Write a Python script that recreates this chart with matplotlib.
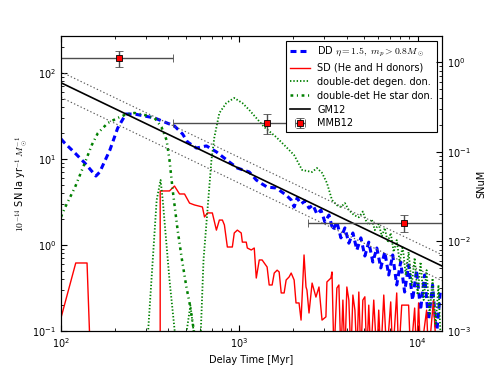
import matplotlib
matplotlib.use('Agg')
import matplotlib.pyplot as plt
import numpy as np

plt.rc('font', size=7)
plt.rc('mathtext', fontset='cm')
plt.rc('lines', scale_dashes=False)
plt.rc('xtick', direction='in')
plt.rc('ytick', direction='in')

## data (delay time in Myr, rate in 1e-14 SN Ia / yr / Msun)
# DD channel
dd_t = [100, 105, 120, 136, 157, 165, 188, 208, 231, 259, 294, 335, 381, 433, 481, 512, 575, 654, 744, 879,
        975, 1137, 1245, 1343, 1432, 1610, 1831, 1954, 2030, 2110, 2220, 2335, 2460, 2590, 2725, 2870, 3020, 3182, 3350, 3525,
        3715, 3910, 4115, 4335, 4565, 4805, 5060, 5322, 5610, 5905, 6215, 6545, 6883, 7250, 7635, 8035, 8455, 8902, 9370, 9865,
        10390, 10935, 11513, 12130, 12770, 13430]
dd_v = [17.1, 15.3, 11.7, 8.98, 6.34, 7.06, 12.7, 22.9, 33.3, 33.3, 31.6, 30.0, 26.9, 24.2, 19.5, 15.8, 13.4, 14.2, 12.1, 9.23,
        7.85, 7.06, 5.70, 5.12, 4.72, 4.60, 3.81, 3.34, 2.77, 3.52, 3.00, 3.25, 2.69, 2.92, 2.29, 2.55, 1.85, 2.23, 1.49, 1.85,
        1.21, 1.58, 1.05, 1.38, 0.875, 1.21, 0.745, 1.08, 0.634, 0.923, 0.541, 0.830, 0.448, 0.766, 0.343, 0.634, 0.284, 0.585, 0.229, 0.51,
        0.175, 0.448, 0.134, 0.343, 0.09, 0.30]

# SD channel
sd_t = [100, 121, 140, 145, 360, 360, 406, 433, 462, 493, 526, 561, 621, 638, 663, 706, 744, 773, 804, 825,
        857, 914, 937, 975, 1025, 1040, 1094, 1109, 1167, 1213, 1245, 1294, 1343, 1380, 1432, 1471, 1528, 1570, 1630, 1673,
        1718, 1784, 1831, 1902, 1954, 2030, 2080, 2163, 2220, 2307, 2366, 2395, 2460, 2560, 2690, 2798, 2910, 3060, 3100, 3265,
        3310, 3395, 3525, 3618, 3715, 3810, 3910, 4010, 4115, 4225, 4335, 4450, 4565, 4680, 4805, 4930, 5060, 5185, 5322, 5460,
        5675, 5905, 6052, 6215, 6460, 6715, 7065, 7250, 7635, 7828, 8145, 8902, 9140, 9625, 9865, 10124, 10390, 11230, 11513, 12270,
        12770]
sd_v = [0.142, 0.618, 0.618, 0.08, 0.05, 4.25, 4.25, 4.85, 3.92, 3.92, 3.07, 2.92, 2.77, 2.12, 2.36, 2.36, 1.49, 1.95, 1.95, 1.71,
        0.948, 0.948, 1.38, 1.49, 1.38, 1.08, 1.08, 0.923, 0.875, 0.923, 0.413, 0.67, 0.67, 0.618, 0.555, 0.343, 0.343, 0.472, 0.51, 0.486,
        0.277, 0.277, 0.392, 0.425, 0.472, 0.392, 0.212, 0.212, 0.134, 0.766, 0.325, 0.30, 0.162, 0.361, 0.248, 0.325, 0.134, 0.146, 0.372, 0.413,
        0.486, 0.05, 0.316, 0.343, 0.05, 0.229, 0.05, 0.325, 0.229, 0.05, 0.262, 0.175, 0.05, 0.284, 0.05, 0.229, 0.25, 0.05, 0.2, 0.05,
        0.229, 0.05, 0.175, 0.05, 0.262, 0.05, 0.218, 0.05, 0.277, 0.05, 0.2, 0.2, 0.05, 0.185, 0.05, 0.212, 0.05, 0.175, 0.05, 0.229,
        0.05]

# double detonation, degenerate donors
dg_t = [306, 344, 362, 372, 406, 439, 499, 532, 561, 606, 630, 663, 698, 725, 773, 846, 937, 1040, 1137, 1245,
        1380, 1610, 1831, 2030, 2250, 2560, 2725, 2910, 3100, 3310, 3525, 3715, 3910, 4115, 4395, 4680, 4930, 5115, 5322, 5530,
        5755, 6052, 6300, 6545, 6790, 7065, 7345, 7635, 7930, 8245, 8575, 8902, 9265, 9625, 10000, 10390, 10810, 11230, 11670, 12130,
        12610, 13094, 13430]
dg_v = [0.08, 3.34, 5.70, 3.34, 0.392, 0.08, 0.08, 0.20, 0.08, 0.08, 0.67, 2.55, 9.73, 18.0, 34.3, 44.8, 51.2, 44.8, 37.2, 30.0,
        23.5, 18.0, 13.8, 11.1, 7.45, 7.06, 7.85, 6.9, 5.26, 3.34, 2.9, 2.77, 3.07, 2.55, 2.23, 2.1, 2.45, 1.95, 1.71, 2.0,
        1.49, 1.75, 1.27, 1.58, 1.08, 1.38, 0.83, 1.14, 0.634, 0.97, 0.448, 0.83, 0.343, 0.71, 0.263, 0.634, 0.229, 0.51, 0.153, 0.41,
        0.117, 0.343, 0.09]

# double detonation, He star donors
he_t = [100, 105, 120, 136, 149, 161, 183, 208, 234, 259, 294, 335, 366, 391, 406, 423, 451, 475, 505, 526, 561]
he_v = [2.12, 2.69, 4.72, 8.98, 14.6, 20.0, 26.2, 30.0, 33.3, 34.3, 32.5, 30.0, 23.5, 16.6, 9.73, 4.36, 1.49, 0.71, 0.325, 0.212, 0.09]

# GM12 power law and its band
gm_t = [100, 13700]
gm_v = [77, 0.57]
gm_hi = [103, 0.77]
gm_lo = [52, 0.385]

# MMB12 measurements
mmb_t = np.array([211, 1430, 8360])
mmb_v = np.array([150, 26.4, 1.82])
mmb_tlo = np.array([100, 423, 2430])
mmb_thi = np.array([423, 2430, 13700])
mmb_vlo = np.array([118, 19.5, 1.43])
mmb_vhi = np.array([180, 33.4, 2.23])

## plot
fig = plt.figure(figsize=(4.91, 3.68), dpi=100)
ax1 = fig.add_axes([0.1242, 0.1005, 0.776, 0.8016])

ax1.plot(dd_t, dd_v, color='blue', lw=2.2, dashes=(4.3, 2.9), label=r'DD $\eta=1.5,\ m_p>0.8M_\odot$')
ax1.plot(sd_t, sd_v, color='red', lw=1.0, label='SD (He and H donors)')
ax1.plot(dg_t, dg_v, color='green', lw=1.3, dashes=(1.0, 1.4), label='double-det degen. don.')
ax1.plot(he_t, he_v, color='green', lw=1.8, dashes=(2.0, 2.6, 0.8, 2.6), label='double-det He star don.')
ax1.plot(gm_t, gm_v, color='k', lw=1.2, label='GM12')
ax1.plot(gm_t, gm_hi, color='0.35', lw=0.8, dashes=(1.0, 1.6))
ax1.plot(gm_t, gm_lo, color='0.35', lw=0.8, dashes=(1.0, 1.6))
ax1.errorbar(mmb_t, mmb_v, xerr=[mmb_t - mmb_tlo, mmb_thi - mmb_t], yerr=[mmb_v - mmb_vlo, mmb_vhi - mmb_v],
             fmt='s', mfc='red', mec='k', mew=0.6, ms=5, ecolor='0.3', elinewidth=1.0, capsize=3, label='MMB12')

ax1.set_xscale('log')
ax1.set_yscale('log')
ax1.set_xlim(100, 13700)
ax1.set_ylim(0.1, 269)
ax1.set_xlabel('Delay Time [Myr]')
ax1.set_ylabel(r'$10^{-14}$ SN Ia yr$^{-1}\,M_\odot^{-1}$', labelpad=2)
ax1.tick_params(which='both', top=True, right=False)
ax1.tick_params(which='major', length=4)
ax1.tick_params(which='minor', length=2)

leg = ax1.legend(loc='upper right', fontsize=7, fancybox=False, edgecolor='k', framealpha=1,
                 handlelength=2, numpoints=1, labelspacing=0.4, borderpad=0.4)
leg.get_frame().set_linewidth(0.8)

ax2 = ax1.twinx()
ax2.set_yscale('log')
ax2.set_ylim(1e-3, 1.95)
ax2.set_ylabel('SNuM')
ax2.tick_params(which='major', length=4)
ax2.tick_params(which='minor', length=2)

fig.savefig('out.png', dpi=100)
